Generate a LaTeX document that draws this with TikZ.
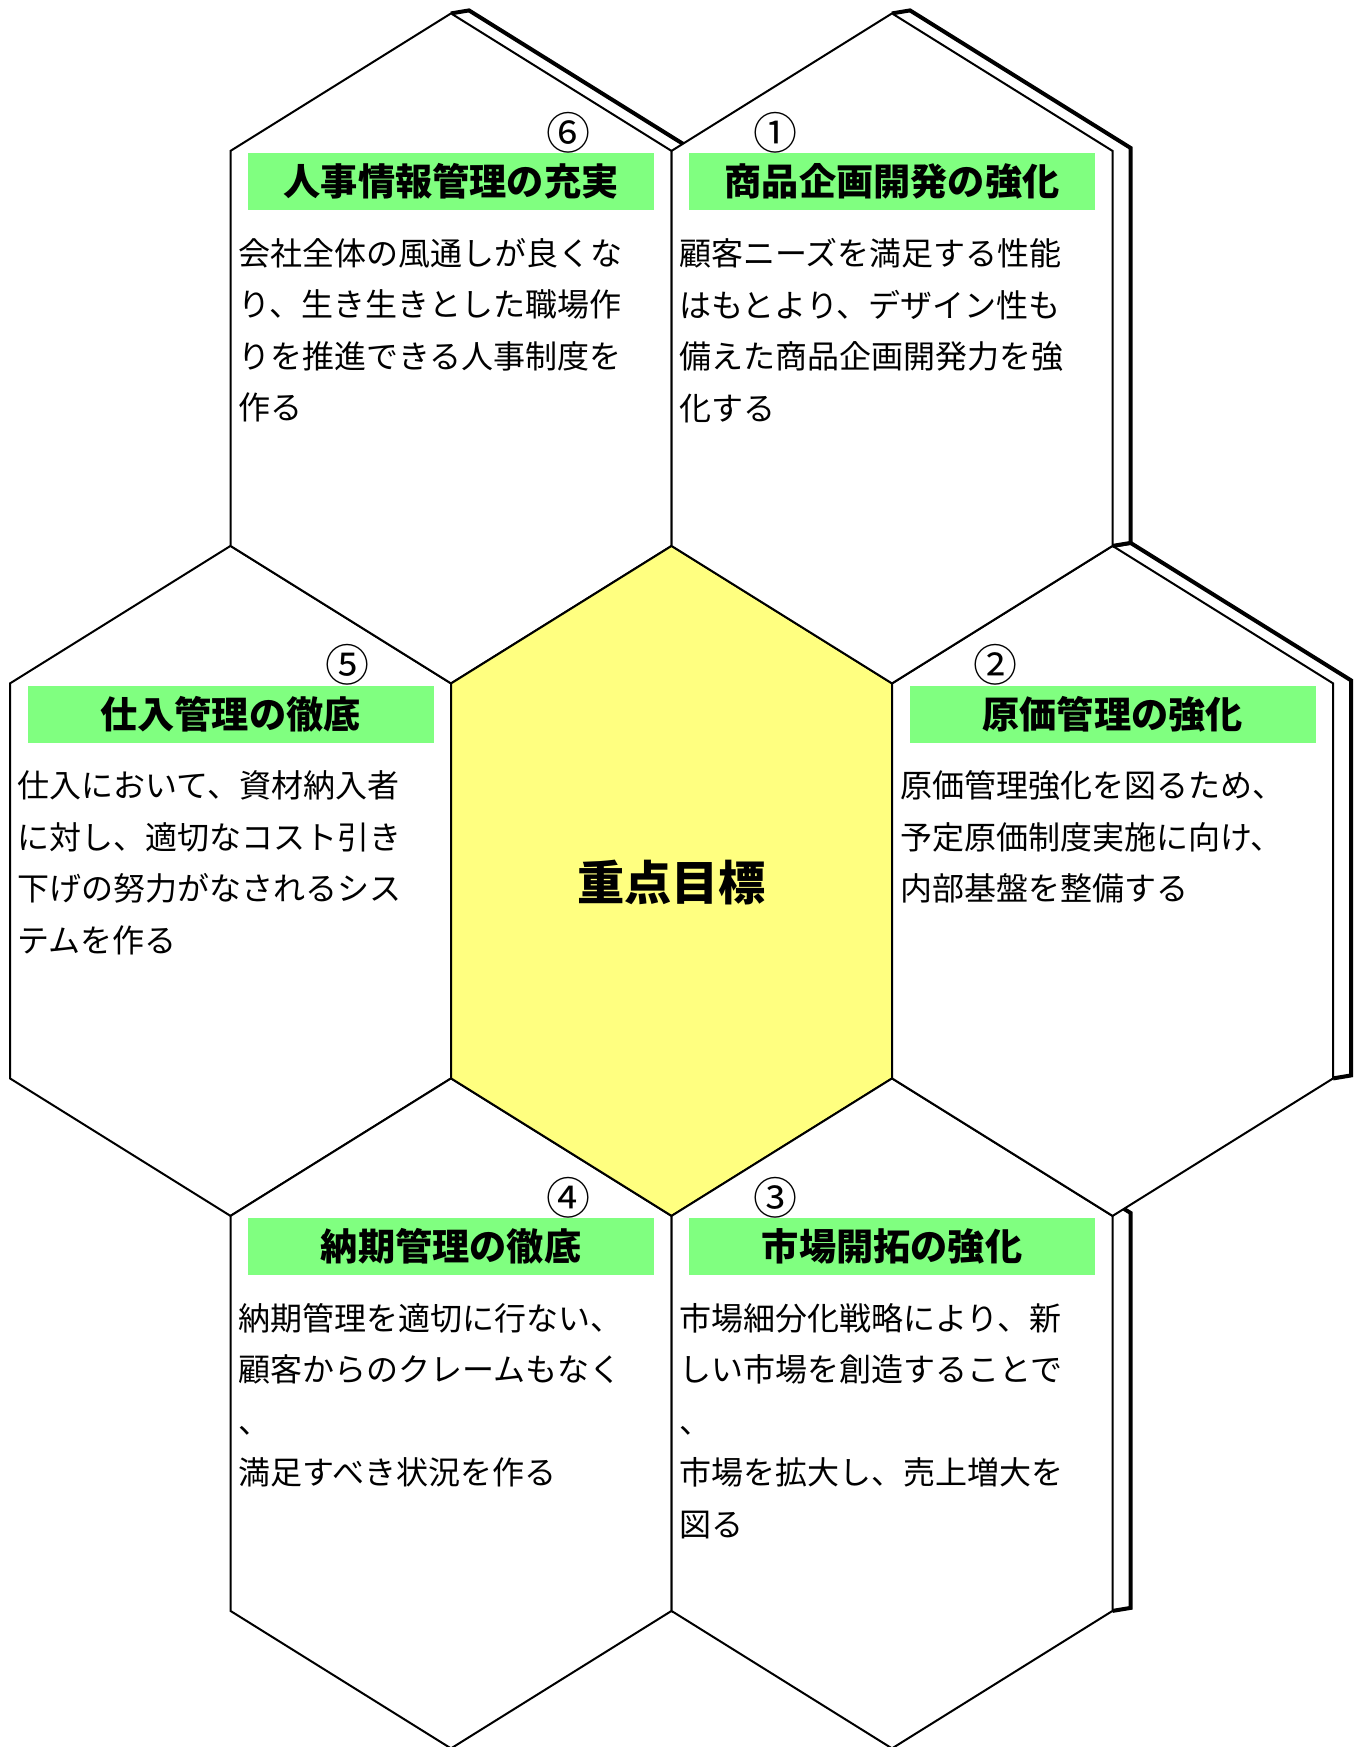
\documentclass[tikz,border=0pt]{standalone}
\usepackage{fontspec}
\newfontfamily\jpfont{Noto Sans CJK JP}
\usetikzlibrary{calc}

\definecolor{titlegreen}{RGB}{128,255,128}
\definecolor{goalyellow}{RGB}{255,255,128}

% hexagon: half width, half side, rise of the roof
\def\hw{220.5}
\def\hs{197.5}
\def\hr{137.5}
% depth of the side face
\def\shx{18}
\def\shy{-3}

\tikzset{
  titlebox/.style={fill=titlegreen, inner sep=0pt, minimum width=203pt, minimum height=28.5pt,
    font=\jpfont\bfseries\fontsize{18.6pt}{20pt}\selectfont},
  numlabel/.style={inner sep=0pt, font=\jpfont\fontsize{22pt}{24pt}\selectfont},
  bodytext/.style={anchor=north west, inner sep=0pt, align=left,
    font=\jpfont\fontsize{16pt}{25.75pt}\selectfont},
  goaltext/.style={inner sep=0pt, font=\jpfont\bfseries\fontsize{23.6pt}{26pt}\selectfont}
}

% one hexagon with its side face, #2 = centre
\newcommand\hexcell[2][white]{%
  \begin{scope}[shift={(#2)}]
    \fill[white] (0,-\hs-\hr) -- ++(\shx,\shy) -- (\hw+\shx,-\hs+\shy) -- (\hw+\shx,\hs+\shy)
      -- (\hw,\hs) -- (\hw,-\hs) -- cycle;
    \draw[line width=2pt, line join=miter] (0,-\hs-\hr) -- ++(\shx,\shy) -- (\hw+\shx,-\hs+\shy)
      -- (\hw+\shx,\hs+\shy) -- (\hw,\hs);
    \draw[line width=1pt, fill=#1] (0,-\hs-\hr) -- (\hw,-\hs) -- (\hw,\hs) -- (0,\hs+\hr)
      -- (-\hw,\hs) -- (-\hw,-\hs) -- cycle;
  \end{scope}}

\begin{document}
\begin{tikzpicture}[x=0.5pt, y=-0.5pt]
	\useasboundingbox (0,0) rectangle (1361,1747);

	% centres of the cells
	\coordinate (c6) at (451,348.4);
	\coordinate (c1) at (892,348.4);
	\coordinate (c5) at (230.5,880.9);
	\coordinate (c0) at (671.6,880.9);
	\coordinate (c2) at (1112.6,880.9);
	\coordinate (c4) at (451,1413.4);
	\coordinate (c3) at (892,1413.4);

	% draw cells, back to front
	\hexcell{c5}
	\hexcell{c4}
	\hexcell{c6}
	\hexcell[goalyellow]{c0}
	\hexcell{c3}
	\hexcell{c2}
	\hexcell{c1}

	% centre
	\node[goaltext] (goal) at ($(c0)+(0,2)$) {重点目標};

	% titles
	\node[titlebox] (t1) at ($(c1)+(0,-166.9)$) {商品企画開発の強化};
	\node[titlebox] (t2) at ($(c2)+(0,-166.9)$) {原価管理の強化};
	\node[titlebox] (t3) at ($(c3)+(0,-166.9)$) {市場開拓の強化};
	\node[titlebox] (t4) at ($(c4)+(0,-166.9)$) {納期管理の徹底};
	\node[titlebox] (t5) at ($(c5)+(0,-166.9)$) {仕入管理の徹底};
	\node[titlebox] (t6) at ($(c6)+(0,-166.9)$) {人事情報管理の充実};

	% numbers
	\node[numlabel] (n1) at ($(c1)+(-117,-216)$) {①};
	\node[numlabel] (n2) at ($(c2)+(-117,-216)$) {②};
	\node[numlabel] (n3) at ($(c3)+(-117,-216)$) {③};
	\node[numlabel] (n4) at ($(c4)+(117,-216)$) {④};
	\node[numlabel] (n5) at ($(c5)+(117,-216)$) {⑤};
	\node[numlabel] (n6) at ($(c6)+(117,-216)$) {⑥};

	% texts
	\node[bodytext] (b1) at ($(c1)+(-\hw+7.5,-110.4)$) {顧客ニーズを満足する性能\\はもとより、デザイン性も\\備えた商品企画開発力を強\\化する};
	\node[bodytext] (b2) at ($(c2)+(-\hw+7.5,-110.4)$) {原価管理強化を図るため、\\予定原価制度実施に向け、\\内部基盤を整備する};
	\node[bodytext] (b3) at ($(c3)+(-\hw+7.5,-110.4)$) {市場細分化戦略により、新\\しい市場を創造することで\\、\\市場を拡大し、売上増大を\\図る};
	\node[bodytext] (b4) at ($(c4)+(-\hw+7.5,-110.4)$) {納期管理を適切に行ない、\\顧客からのクレームもなく\\、\\満足すべき状況を作る};
	\node[bodytext] (b5) at ($(c5)+(-\hw+7.5,-110.4)$) {仕入において、資材納入者\\に対し、適切なコスト引き\\下げの努力がなされるシス\\テムを作る};
	\node[bodytext] (b6) at ($(c6)+(-\hw+7.5,-110.4)$) {会社全体の風通しが良くな\\り、生き生きとした職場作\\りを推進できる人事制度を\\作る};
\end{tikzpicture}
\end{document}
